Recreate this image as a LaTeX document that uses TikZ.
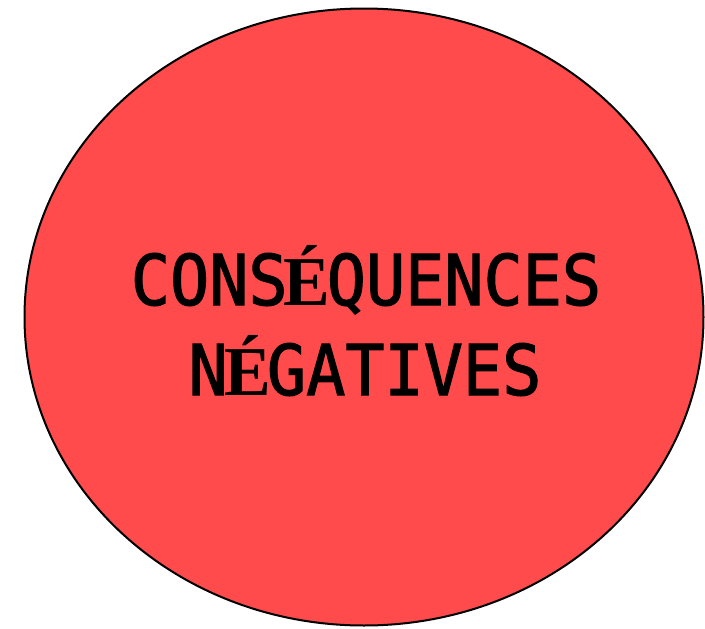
\documentclass[tikz,border=0pt]{standalone}
\usepackage{fontspec}
\usepackage{tikz}
\usetikzlibrary{shapes.geometric}
\newfontfamily\capsmono[FakeStretch=0.93,FakeBold=1.6]{DejaVu Sans Mono}
\newfontfamily\capsserif{Liberation Serif}
\definecolor{conseqred}{HTML}{FF4B4B}
% accented E set in a serif face, kept on the mono grid
\newcommand{\serifEac}{\makebox[0.56em][c]{\capsserif\bfseries É}}

\begin{document}
\begin{tikzpicture}[
    x=1pt,y=-1pt,
    blob/.style = {ellipse,draw=black,line width=2pt,fill=conseqred,
                   minimum width=679pt,minimum height=617pt,inner sep=0pt},
    lbl/.style  = {anchor=base,inner sep=0pt,
                   font=\capsmono\fontsize{70}{80}\selectfont},
  ]
  \useasboundingbox (0,0) rectangle (705,629);

  \node[blob] (csq) at (364,317) {};
  \node[lbl]  (top) at (366,305) {CONS\serifEac QUENCES};
  \node[lbl]  (bot) at (365,395) {N\serifEac GATIVES};

\end{tikzpicture}
\end{document}
